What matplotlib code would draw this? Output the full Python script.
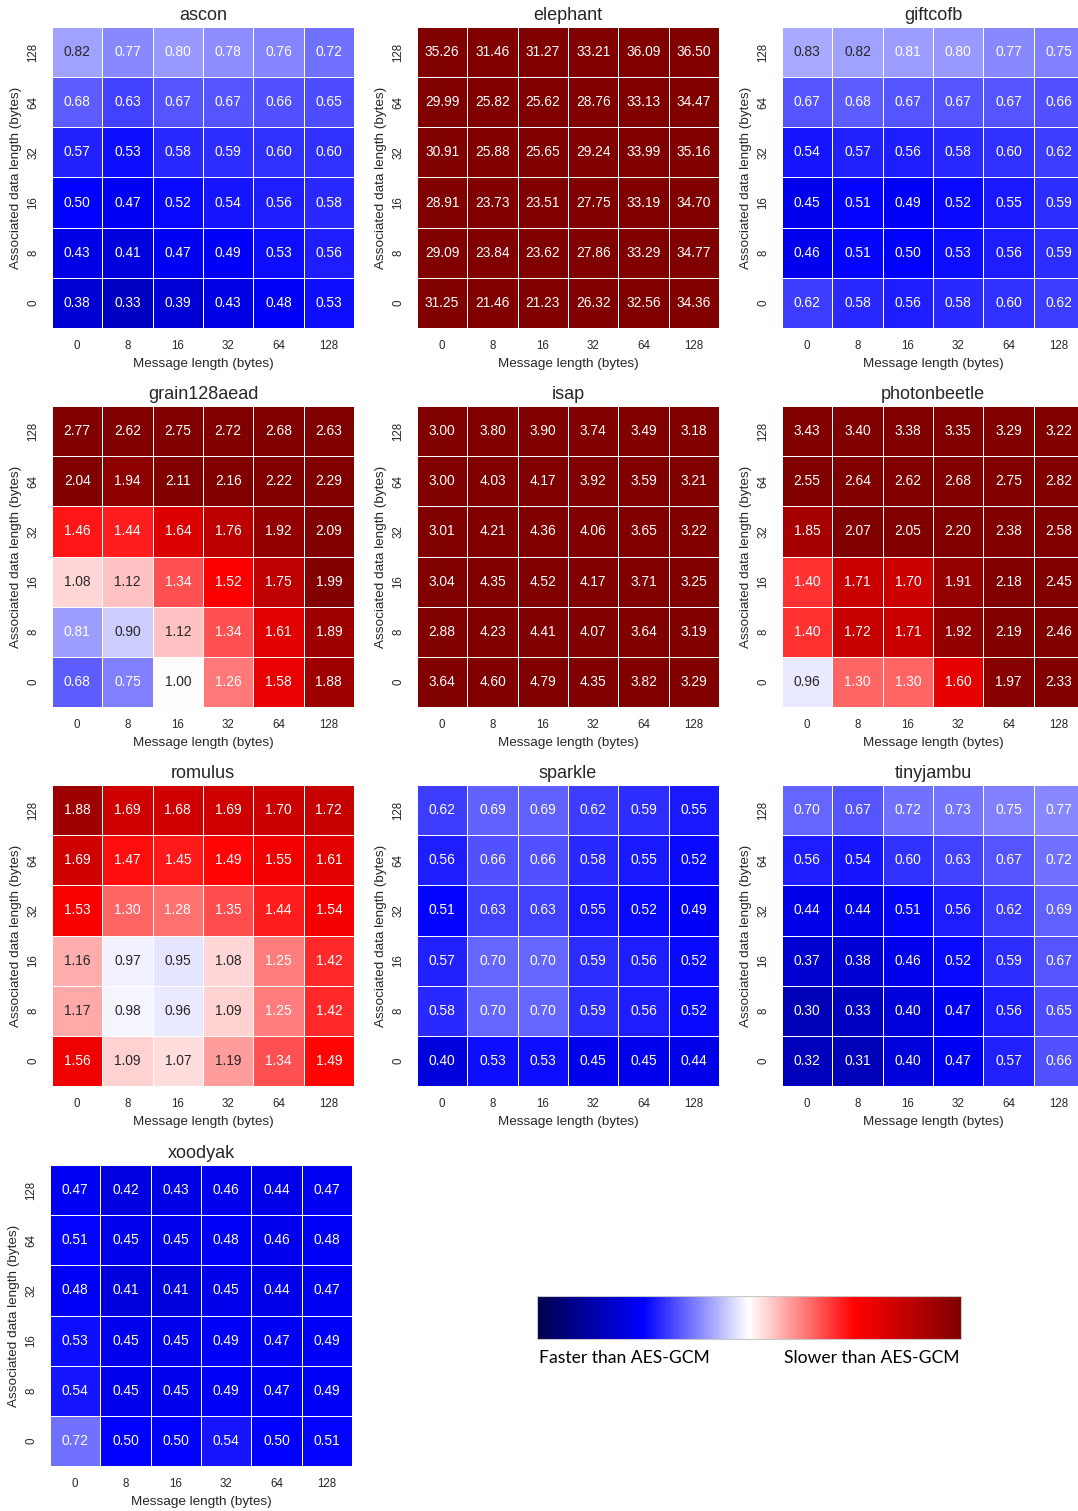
import numpy as np
import matplotlib
matplotlib.use("Agg")
import matplotlib.pyplot as plt
import seaborn as sns
from matplotlib.colors import Normalize, to_rgb
from matplotlib.cm import ScalarMappable

# Relative runtime vs. AES-GCM, rows = associated data length (128 at top), cols = message length
msg_lengths = [0, 8, 16, 32, 64, 128]
ad_lengths = [128, 64, 32, 16, 8, 0]

ascon = [
    [0.82, 0.77, 0.80, 0.78, 0.76, 0.72],
    [0.68, 0.63, 0.67, 0.67, 0.66, 0.65],
    [0.57, 0.53, 0.58, 0.59, 0.60, 0.60],
    [0.50, 0.47, 0.52, 0.54, 0.56, 0.58],
    [0.43, 0.41, 0.47, 0.49, 0.53, 0.56],
    [0.38, 0.33, 0.39, 0.43, 0.48, 0.53],
]
elephant = [
    [35.26, 31.46, 31.27, 33.21, 36.09, 36.50],
    [29.99, 25.82, 25.62, 28.76, 33.13, 34.47],
    [30.91, 25.88, 25.65, 29.24, 33.99, 35.16],
    [28.91, 23.73, 23.51, 27.75, 33.19, 34.70],
    [29.09, 23.84, 23.62, 27.86, 33.29, 34.77],
    [31.25, 21.46, 21.23, 26.32, 32.56, 34.36],
]
giftcofb = [
    [0.83, 0.82, 0.81, 0.80, 0.77, 0.75],
    [0.67, 0.68, 0.67, 0.67, 0.67, 0.66],
    [0.54, 0.57, 0.56, 0.58, 0.60, 0.62],
    [0.45, 0.51, 0.49, 0.52, 0.55, 0.59],
    [0.46, 0.51, 0.50, 0.53, 0.56, 0.59],
    [0.62, 0.58, 0.56, 0.58, 0.60, 0.62],
]
grain128aead = [
    [2.77, 2.62, 2.75, 2.72, 2.68, 2.63],
    [2.04, 1.94, 2.11, 2.16, 2.22, 2.29],
    [1.46, 1.44, 1.64, 1.76, 1.92, 2.09],
    [1.08, 1.12, 1.34, 1.52, 1.75, 1.99],
    [0.81, 0.90, 1.12, 1.34, 1.61, 1.89],
    [0.68, 0.75, 1.00, 1.26, 1.58, 1.88],
]
isap = [
    [3.00, 3.80, 3.90, 3.74, 3.49, 3.18],
    [3.00, 4.03, 4.17, 3.92, 3.59, 3.21],
    [3.01, 4.21, 4.36, 4.06, 3.65, 3.22],
    [3.04, 4.35, 4.52, 4.17, 3.71, 3.25],
    [2.88, 4.23, 4.41, 4.07, 3.64, 3.19],
    [3.64, 4.60, 4.79, 4.35, 3.82, 3.29],
]
photonbeetle = [
    [3.43, 3.40, 3.38, 3.35, 3.29, 3.22],
    [2.55, 2.64, 2.62, 2.68, 2.75, 2.82],
    [1.85, 2.07, 2.05, 2.20, 2.38, 2.58],
    [1.40, 1.71, 1.70, 1.91, 2.18, 2.45],
    [1.40, 1.72, 1.71, 1.92, 2.19, 2.46],
    [0.96, 1.30, 1.30, 1.60, 1.97, 2.33],
]
romulus = [
    [1.88, 1.69, 1.68, 1.69, 1.70, 1.72],
    [1.69, 1.47, 1.45, 1.49, 1.55, 1.61],
    [1.53, 1.30, 1.28, 1.35, 1.44, 1.54],
    [1.16, 0.97, 0.95, 1.08, 1.25, 1.42],
    [1.17, 0.98, 0.96, 1.09, 1.25, 1.42],
    [1.56, 1.09, 1.07, 1.19, 1.34, 1.49],
]
sparkle = [
    [0.62, 0.69, 0.69, 0.62, 0.59, 0.55],
    [0.56, 0.66, 0.66, 0.58, 0.55, 0.52],
    [0.51, 0.63, 0.63, 0.55, 0.52, 0.49],
    [0.57, 0.70, 0.70, 0.59, 0.56, 0.52],
    [0.58, 0.70, 0.70, 0.59, 0.56, 0.52],
    [0.40, 0.53, 0.53, 0.45, 0.45, 0.44],
]
tinyjambu = [
    [0.70, 0.67, 0.72, 0.73, 0.75, 0.77],
    [0.56, 0.54, 0.60, 0.63, 0.67, 0.72],
    [0.44, 0.44, 0.51, 0.56, 0.62, 0.69],
    [0.37, 0.38, 0.46, 0.52, 0.59, 0.67],
    [0.30, 0.33, 0.40, 0.47, 0.56, 0.65],
    [0.32, 0.31, 0.40, 0.47, 0.57, 0.66],
]
xoodyak = [
    [0.47, 0.42, 0.43, 0.46, 0.44, 0.47],
    [0.51, 0.45, 0.45, 0.48, 0.46, 0.48],
    [0.48, 0.41, 0.41, 0.45, 0.44, 0.47],
    [0.53, 0.45, 0.45, 0.49, 0.47, 0.49],
    [0.54, 0.45, 0.45, 0.49, 0.47, 0.49],
    [0.72, 0.50, 0.50, 0.54, 0.50, 0.51],
]

cipher_names = ["ascon", "elephant", "giftcofb", "grain128aead", "isap",
                "photonbeetle", "romulus", "sparkle", "tinyjambu", "xoodyak"]
cipher_data = [ascon, elephant, giftcofb, grain128aead, isap,
               photonbeetle, romulus, sparkle, tinyjambu, xoodyak]

sns.set_theme(style="white")
plt.rcParams["font.family"] = ["Liberation Sans", "DejaVu Sans"]
TEXT = "#262626"

W, H = 1078, 1511
fig = plt.figure(figsize=(W / 100, H / 100), dpi=100)

col_left = [52, 417, 782]
row_top = [27, 406, 785, 1165]
ax_w, ax_h = 302, 301

norm = Normalize(vmin=0, vmax=2)
cmap = plt.get_cmap("seismic")


def px_rect(left, top, w, h):
    return [left / W, 1 - (top + h) / H, w / W, h / H]


def luminance(rgb):
    lin = [c / 12.92 if c <= 0.03928 else ((c + 0.055) / 1.055) ** 2.4 for c in rgb]
    return 0.2126 * lin[0] + 0.7152 * lin[1] + 0.0722 * lin[2]


for i, (name, vals) in enumerate(zip(cipher_names, cipher_data)):
    r, c = divmod(i, 3)
    left = col_left[c] - (2 if r == 3 else 0)
    ax = fig.add_axes(px_rect(left, row_top[r], ax_w, ax_h))
    arr = np.array(vals)
    sns.heatmap(arr, ax=ax, cmap=cmap, vmin=0, vmax=2,
                annot=True, fmt=".2f", annot_kws={"fontsize": 9.9},
                linewidths=0.5, linecolor="white", cbar=False,
                xticklabels=msg_lengths, yticklabels=ad_lengths)
    # annotation colour follows the brightness of each cell
    for txt, v in zip(ax.texts, arr.ravel()):
        lum = luminance(to_rgb(cmap(norm(v))))
        txt.set_color(TEXT if lum > 0.40 else "white")
    ax.set_title(name, fontsize=13, color=TEXT, pad=5)
    ax.set_xlabel("Message length (bytes)", fontsize=9.7, color=TEXT, labelpad=4.5)
    ax.set_ylabel("Associated data length (bytes)", fontsize=9.7, color=TEXT, labelpad=4)
    ax.tick_params(axis="x", length=0, pad=8.5, labelsize=8.3, labelcolor=TEXT)
    ax.tick_params(axis="y", length=0, pad=9, labelsize=8.3, labelcolor=TEXT)
    plt.setp(ax.get_yticklabels(), rotation=90, va="center")
    plt.setp(ax.get_xticklabels(), rotation=0)

# Speed legend: blue = faster, red = slower than the AES-GCM baseline
cax = fig.add_axes(px_rect(537, 1296, 424, 43))
sm = ScalarMappable(norm=norm, cmap=cmap)
cb = fig.colorbar(sm, cax=cax, orientation="horizontal")
cb.set_ticks([])
cb.outline.set_edgecolor("#c8c8c8")
cb.outline.set_linewidth(0.8)

fig.text(539 / W, 1 - 1358 / H, "Faster than AES-GCM", fontsize=12.6,
         family=["Lato", "DejaVu Sans"], color="black", ha="left", va="center")
fig.text(960 / W, 1 - 1358 / H, "Slower than AES-GCM", fontsize=12.6,
         family=["Lato", "DejaVu Sans"], color="black", ha="right", va="center")

fig.savefig("out.png", dpi=100)
